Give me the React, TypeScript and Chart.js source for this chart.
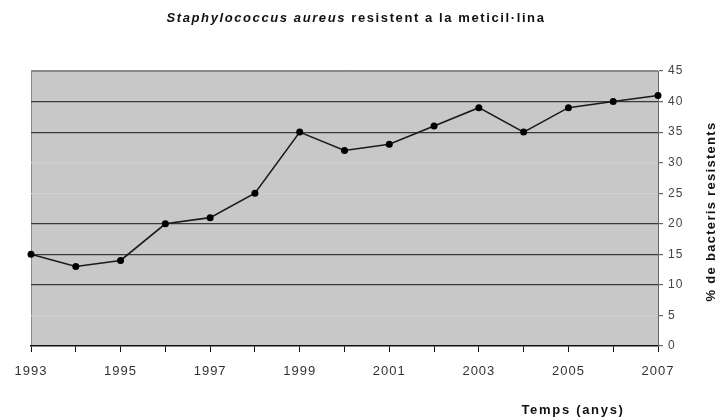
import React, { useEffect, useRef } from "react";
import { Chart, registerables } from "chart.js";

Chart.register(...registerables);

const years = ["1993","1994","1995","1996","1997","1998","1999","2000","2001","2002","2003","2004","2005","2006","2007"];
const resistance = [15, 13, 14, 20, 21, 25, 35, 32, 33, 36, 39, 35, 39, 40, 41];
const yMin = 0;
const yMax = 45;
const yStep = 5;
const strongGridValues = [10, 15, 20, 35, 40];
const titleItalic = "Staphylococcus aureus";
const titleRest = " resistent a la meticil·lina";
const xTitle = "Temps (anys)";
const yTitle = "% de bacteris resistents";

const FONT = "'Liberation Sans', Arial, sans-serif";

const spacingPlugin = {
  id: "spacing",
  beforeUpdate(chart: any) {
    (chart.ctx as any).letterSpacing = "1px";
  },
  beforeDraw(chart: any) {
    (chart.ctx as any).letterSpacing = "1px";
  },
};

const decorPlugin = {
  id: "decor",
  beforeDraw(chart: any) {
    const { ctx, chartArea: a } = chart;
    ctx.save();
    ctx.fillStyle = "#c8c8c8";
    ctx.fillRect(a.left, a.top, a.right - a.left, a.bottom - a.top);
    ctx.strokeStyle = "#8a8a8a";
    ctx.lineWidth = 1;
    ctx.beginPath();
    ctx.moveTo(a.left + 0.5, a.bottom);
    ctx.lineTo(a.left + 0.5, a.top + 0.5);
    ctx.lineTo(a.right, a.top + 0.5);
    ctx.stroke();
    ctx.restore();
  },
  afterDraw(chart: any) {
    const { ctx, chartArea: a } = chart;
    ctx.save();
    ctx.fillStyle = "#111";
    ctx.textBaseline = "middle";
    (ctx as any).letterSpacing = "1.6px";
    ctx.font = `italic bold 13px ${FONT}`;
    const w1 = ctx.measureText(titleItalic).width;
    ctx.font = `bold 13px ${FONT}`;
    const w2 = ctx.measureText(titleRest).width;
    const cx = 356;
    const x0 = cx - (w1 + w2) / 2;
    ctx.textAlign = "left";
    ctx.font = `italic bold 13px ${FONT}`;
    ctx.fillText(titleItalic, x0, 18);
    ctx.font = `bold 13px ${FONT}`;
    ctx.fillText(titleRest, x0 + w1, 18);
    // x title
    ctx.textAlign = "center";
    (ctx as any).letterSpacing = "1.7px";
    ctx.font = `bold 13px ${FONT}`;
    ctx.fillText(xTitle, 573, 410);
    // y title
    (ctx as any).letterSpacing = "1.3px";
    ctx.translate(711, (a.top + a.bottom) / 2 + 3);
    ctx.rotate(-Math.PI / 2);
    ctx.fillText(yTitle, 0, 0);
    ctx.restore();
  },
};

export default function App() {
  const ref = useRef<HTMLCanvasElement>(null);
  useEffect(() => {
    if (!ref.current) return;
    const chart = new Chart(ref.current, {
      type: "line",
      data: {
        labels: years,
        datasets: [
          {
            data: resistance,
            borderColor: "#1a1a1a",
            borderWidth: 1.6,
            pointRadius: 3.5,
            pointBackgroundColor: "#000",
            pointBorderColor: "#000",
            pointBorderWidth: 0,
            tension: 0,
          },
        ],
      },
      options: {
        responsive: false,
        animation: false,
        layout: { padding: { left: 31, top: 71, right: 0, bottom: 0 } },
        plugins: { legend: { display: false }, title: { display: false }, tooltip: { enabled: false } },
        scales: {
          x: {
            type: "category",
            offset: false,
            afterFit: (s: any) => { s.height = 72; },
            grid: { drawOnChartArea: false, drawTicks: true, tickLength: 6, color: "#111", lineWidth: 1 },
            border: { display: true, color: "#111", width: 1.5 },
            ticks: {
              autoSkip: false,
              maxRotation: 0,
              padding: 12,
              color: "#333",
              font: { family: FONT, size: 13 },
              callback: (_v: any, i: number) => (i % 2 === 0 ? years[i] : ""),
            },
          },
          y: {
            position: "right",
            min: yMin,
            max: yMax,
            afterFit: (s: any) => { s.width = 60; },
            grid: {
              drawOnChartArea: true,
              drawTicks: true,
              tickLength: 5,
              tickColor: "#666",
              lineWidth: 1.2,
              color: (c: any) => {
                const v = c.tick && c.tick.value;
                if (v === yMax) return "#8a8a8a";
                if (v === yMin) return "rgba(0,0,0,0)";
                return strongGridValues.includes(v) ? "#3a3a3a" : "#d0d0d0";
              },
            },
            border: { display: true, color: "#666", width: 1 },
            ticks: {
              stepSize: yStep,
              padding: 5,
              color: "#444",
              font: { family: FONT, size: 12 },
            },
          },
        },
      },
      plugins: [spacingPlugin, decorPlugin],
    });
    return () => chart.destroy();
  }, []);
  return (
    <div style={{ position: "fixed", left: 0, top: 0, width: 718, height: 418, background: "#fff" }}>
      <canvas ref={ref} width={718} height={418} style={{ width: 718, height: 418 }} />
    </div>
  );
}
